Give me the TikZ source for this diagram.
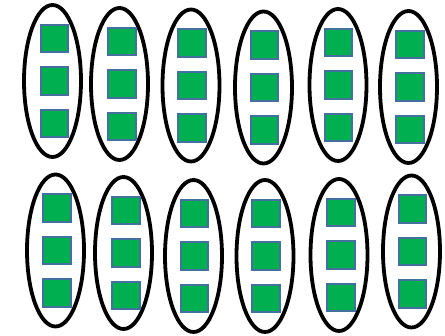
\documentclass[tikz,border=0pt]{standalone}
\usetikzlibrary{shapes.geometric}
\definecolor{cellfill}{HTML}{00B050}
\definecolor{celledge}{HTML}{41719C}
\tikzset{
  grp/.style={ellipse, draw=black, line width=3.8pt, minimum width=57pt,
    minimum height=152pt, inner sep=0pt},
  cell/.style={rectangle, draw=celledge, fill=cellfill, line width=2.4pt,
    minimum size=27.5pt, inner sep=0pt},
}
\begin{document}
\begin{tikzpicture}[x=1pt,y=-1pt]
  \useasboundingbox (0,0) rectangle (445,336);
  % ---------------- twelve groups of three cells ----------------
  \foreach \i/\ex/\ey/\sx in {1/52.5/81/54.5, 2/119.5/84/122, 3/191/85.5/192,
      4/263.5/87.5/264.5, 5/338/85/338.5, 6/408.5/87/410,
      7/55.5/250.5/57, 8/123.5/253/126, 9/193.5/256/194.5,
      10/265/256/266, 11/339/255/341, 12/411.5/251.5/412.5} {
    \node[grp] (g\i) at (\ex,\ey) {};
    \node[cell] (g\i top) at (\sx,\ey-42.5) {};
    \node[cell] (g\i mid) at (\sx,\ey) {};
    \node[cell] (g\i bot) at (\sx,\ey+42.5) {};
  }
\end{tikzpicture}
\end{document}
